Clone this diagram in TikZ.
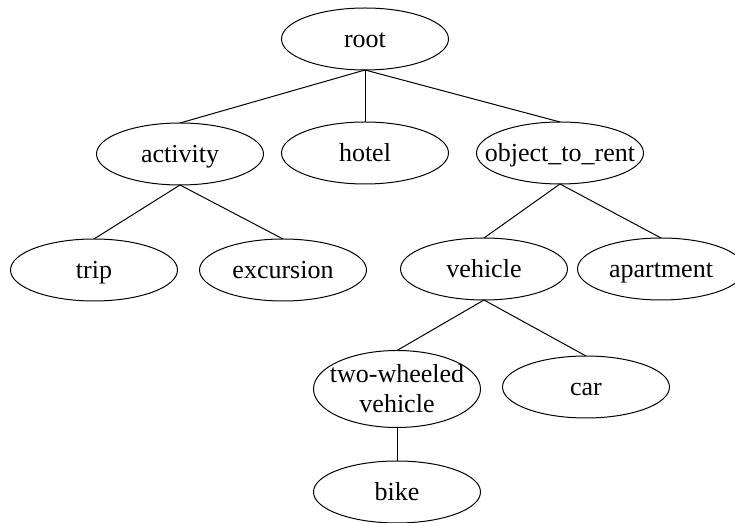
\documentclass[tikz,border=0pt]{standalone}
\usepackage{fontspec}
\setmainfont{Liberation Serif}
\usetikzlibrary{shapes.geometric}

\begin{document}
\begin{tikzpicture}[x=0.5pt,y=-0.5pt,
    font=\fontsize{13}{15}\selectfont,
    every label/.style={text height=10pt,text depth=1.5pt},
    kNode/.style={ellipse,draw,line width=0.5pt,inner sep=0pt,outer sep=0pt,
                  minimum width=83.5pt,minimum height=31pt},
    kTall/.style={kNode,minimum height=38.5pt}]
  \useasboundingbox (0,0) rectangle (735,523);

  % nodes
  \node[kNode,label={center:root}]           (root)      at (365,39)  {};
  \node[kNode,label={center:activity}]       (activity)  at (180,154) {};
  \node[kNode,label={center:hotel}]          (hotel)     at (365,153) {};
  \node[kNode,label={center:object\_to\_rent}] (object)  at (560,153) {};
  \node[kNode,label={center:trip}]           (trip)      at (94,270)  {};
  \node[kNode,label={center:excursion}]      (excursion) at (283,270) {};
  \node[kNode,label={center:vehicle}]        (vehicle)   at (484,269) {};
  \node[kNode,label={center:apartment}]      (apartment) at (661,269) {};
  \node[kTall,label={[align=center,text height=,text depth=]center:two-wheeled\\vehicle}] (twowheel) at (397,389) {};
  \node[kNode,label={center:car}]            (car)       at (586,387) {};
  \node[kNode,label={center:bike}]           (bike)      at (397,492) {};

  % edges
  \foreach \a/\b in {root/activity, root/hotel, root/object,
                     activity/trip, activity/excursion,
                     object/vehicle, object/apartment,
                     vehicle/twowheel, vehicle/car,
                     twowheel/bike}
  {
    \draw[line width=0.5pt] (\a.south) -- (\b.north);
  }
\end{tikzpicture}
\end{document}
